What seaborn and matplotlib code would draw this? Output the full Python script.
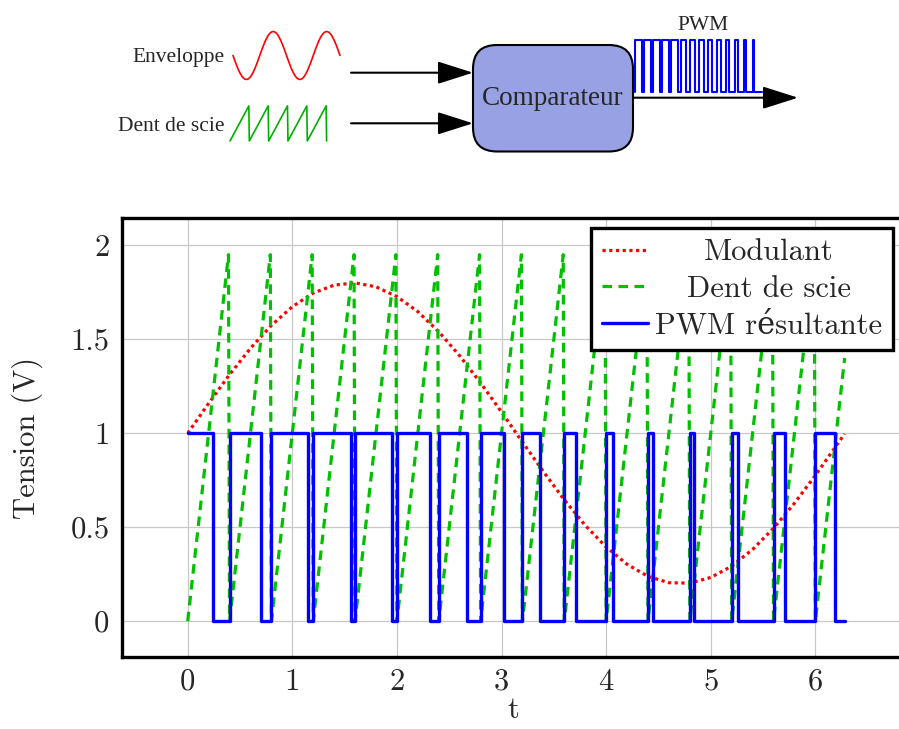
import matplotlib
matplotlib.use('Agg')
import matplotlib.pyplot as plt
import seaborn as sns
from matplotlib.patches import FancyBboxPatch

# modulating wave (every 0.2)
mod_t = [0.0, 0.2, 0.4, 0.6, 0.8, 1.0, 1.2, 1.4, 1.6, 1.8, 2.0, 2.2, 2.4, 2.6, 2.8, 3.0,
         3.2, 3.4, 3.6, 3.8, 4.0, 4.2, 4.4, 4.6, 4.8, 5.0, 5.2, 5.4, 5.6, 5.8, 6.0, 6.2, 6.28]
mod_v = [1.00, 1.159, 1.312, 1.452, 1.574, 1.673, 1.746, 1.788, 1.800, 1.779, 1.727, 1.647,
         1.540, 1.412, 1.268, 1.113, 0.953, 0.796, 0.646, 0.510, 0.395, 0.303, 0.239, 0.205,
         0.203, 0.233, 0.293, 0.382, 0.495, 0.628, 0.776, 0.934, 0.997]

# sawtooth corners
saw_t = [0.00, 0.39, 0.40, 0.79, 0.80, 1.19, 1.20, 1.59, 1.60, 1.99, 2.00, 2.39, 2.40, 2.79,
         2.80, 3.19, 3.20, 3.59, 3.60, 3.99, 4.00, 4.39, 4.40, 4.79, 4.80, 5.19, 5.20, 5.59,
         5.60, 5.99, 6.00, 6.28]
saw_v = [0, 1.95, 0, 1.95, 0, 1.95, 0, 1.95, 0, 1.95, 0, 1.95, 0, 1.95, 0, 1.95,
         0, 1.95, 0, 1.95, 0, 1.95, 0, 1.95, 0, 1.95, 0, 1.95, 0, 1.95, 0, 1.40]

# resulting PWM (switching times)
pwm_t = [0.00, 0.24, 0.40, 0.70, 0.80, 1.15, 1.20, 1.56, 1.60, 1.95, 2.00, 2.32, 2.40, 2.67,
         2.80, 3.02, 3.20, 3.37, 3.60, 3.71, 4.00, 4.07, 4.40, 4.45, 4.80, 4.84, 5.20, 5.26,
         5.60, 5.71, 6.00, 6.19, 6.28]
pwm_v = [1, 0, 1, 0, 1, 0, 1, 0, 1, 0, 1, 0, 1, 0, 1, 0,
         1, 0, 1, 0, 1, 0, 1, 0, 1, 0, 1, 0, 1, 0, 1, 0, 0]

# duty cycles of the small PWM icon
icon_duty = [0.8, 0.75, 0.75, 0.7, 0.7, 0.65, 0.6, 0.55, 0.5, 0.4, 0.35, 0.3, 0.2, 0.1]

x_ticks = [0, 1, 2, 3, 4, 5, 6]
x_labels = ['0', '1', '2', '3', '4', '5', '6']
y_ticks = [0, 0.5, 1, 1.5, 2]
y_labels = ['0', '0.5', '1', '1.5', '2']

sns.set_style('white')
plt.rcParams['font.family'] = ['cmr10', 'DejaVu Serif']
plt.rcParams['axes.unicode_minus'] = False

fig = plt.figure(figsize=(8.99, 7.29), dpi=100)

# ---- block diagram, drawn on a pixel grid ----
dg = fig.add_axes([0, 0, 1, 1])
dg.set_xlim(0, 899)
dg.set_ylim(729, 0)
dg.axis('off')
serif = 'Liberation Serif'

dg.text(225, 62, 'Enveloppe', ha='right', va='baseline', fontsize=15.5, family=serif)
dg.text(225, 131, 'Dent de scie', ha='right', va='baseline', fontsize=15.5, family=serif)
dg.text(703, 30, 'PWM', ha='center', va='baseline', fontsize=15.5, family=serif)

# envelope icon: two cycles of the modulating wave
per = 53.5
env_x = [233 + t / 6.28 * per for t in mod_t] + [233 + per + t / 6.28 * per for t in mod_t]
env_y = [55.5 + (v - 1) * 30 for v in mod_v] * 2
dg.plot(env_x, env_y, color='red', lw=1.2)

# sawtooth icon: first five teeth
dg.plot([230 + t * 48.3 for t in saw_t[:11]], [141 - v * 18 for v in saw_v[:11]],
        color='#00b000', lw=1.2)

# pwm icon
p0, pp = 635, 9.1
ix, iy = [p0], [92]
for k, d in enumerate(icon_duty):
    x = p0 + k * pp
    ix += [x, x, x + d * pp, x + d * pp]
    iy += [92, 40, 40, 92]
ix.append(p0 + len(icon_duty) * pp)
iy.append(92)
dg.plot(ix, iy, color='blue', lw=1.5)

box = FancyBboxPatch((473, 45), 160, 106.5, boxstyle='round,pad=0,rounding_size=24',
                     fc='#97a1e3', ec='black', lw=1.5)
dg.add_patch(box)
dg.text(553, 98, 'Comparateur', ha='center', va='center', fontsize=19.5, family=serif)

arrow = dict(arrowstyle='-|>,head_length=1.1,head_width=0.35', color='black', lw=1.5,
             shrinkA=0, shrinkB=0, mutation_scale=20)
dg.annotate('', xy=(473, 72.7), xytext=(351, 72.7), arrowprops=arrow)
dg.annotate('', xy=(473, 123.3), xytext=(351, 123.3), arrowprops=arrow)
dg.annotate('', xy=(798, 97.7), xytext=(633, 97.7), arrowprops=arrow)

# ---- main chart ----
ax = fig.add_axes([122 / 899, 72 / 729, 783 / 899, 439 / 729])
sns.lineplot(x=mod_t, y=mod_v, ax=ax, color='#ff0000', lw=2.3, linestyle=(0, (1, 1.1)),
             label='Modulant', sort=False, estimator=None)
sns.lineplot(x=saw_t, y=saw_v, ax=ax, color='#00c000', lw=2.3, linestyle=(0, (3, 2)),
             label='Dent de scie', sort=False, estimator=None)
sns.lineplot(x=pwm_t, y=pwm_v, ax=ax, color='#0000ff', lw=2.4, drawstyle='steps-post',
             label='PWM résultante', sort=False, estimator=None)

ax.set_xlim(-0.628, 6.857)
ax.set_ylim(-0.19, 2.145)
ax.set_xticks(x_ticks)
ax.set_xticklabels(x_labels)
ax.set_yticks(y_ticks)
ax.set_yticklabels(y_labels)
ax.tick_params(direction='in', length=7, width=2, color='#888888', labelsize=22)
ax.tick_params(axis='x', pad=8)
ax.tick_params(axis='y', pad=9)
ax.grid(True, color='#c8c8c8', lw=0.9)
ax.set_axisbelow(True)
for s in ax.spines.values():
    s.set_linewidth(2.4)
    s.set_color('black')
ax.set_xlabel('t', fontsize=22, labelpad=1)
ax.set_ylabel('Tension (V)', fontsize=22, labelpad=20)

leg = ax.legend(loc='upper right', bbox_to_anchor=(0.985, 0.977), borderaxespad=0,
                fontsize=22, fancybox=False, edgecolor='black', framealpha=1,
                handlelength=1.5, handletextpad=0.25, labelspacing=0.3, borderpad=0.35)
leg.get_frame().set_linewidth(2.4)

# centre the legend labels in their column
fig.canvas.draw()
r = fig.canvas.get_renderer()
widths = [t.get_window_extent(r).width for t in leg.get_texts()]
for t, w in zip(leg.get_texts(), widths):
    t.set_position(((max(widths) - w) / 2, 0))

fig.savefig('out.png', dpi=100)
